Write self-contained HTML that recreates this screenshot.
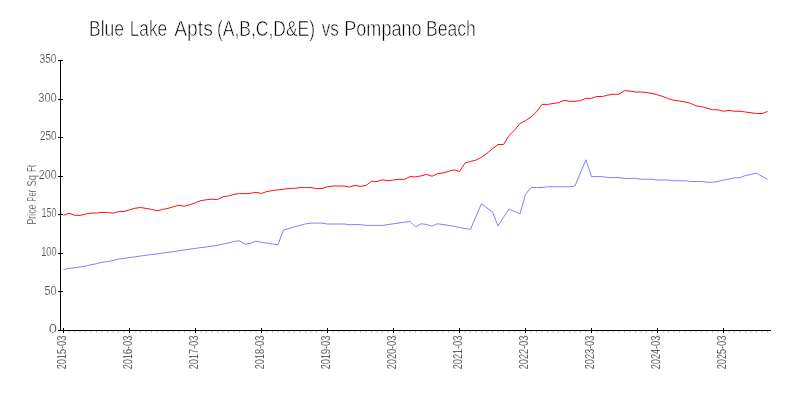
<!DOCTYPE html>
<html><head><meta charset="utf-8"><title>Chart</title>
<style>
html,body{margin:0;padding:0;background:#fff;}
svg{display:block;will-change:transform;}
text{font-family:"Liberation Sans",sans-serif;}
.ax{font-size:13px;fill:#333;stroke:#fff;stroke-width:0.15px;}
.ay{fill:#505050;}
.ayt{font-size:13px;fill:#505050;stroke:#fff;stroke-width:0.15px;}
.title{font-size:22px;fill:#000;stroke:#fff;stroke-width:0.6px;}
</style></head><body>
<svg width="800" height="400" viewBox="0 0 800 400">
<rect width="800" height="400" fill="#fff"/>
<g shape-rendering="crispEdges" fill="#000">
<rect x="60" y="60" width="1" height="271"/>
<rect x="58" y="330" width="713" height="1"/>
<rect x="58" y="330" width="5" height="1"/>
<rect x="58" y="291" width="5" height="1"/>
<rect x="58" y="253" width="5" height="1"/>
<rect x="58" y="214" width="5" height="1"/>
<rect x="58" y="176" width="5" height="1"/>
<rect x="58" y="137" width="5" height="1"/>
<rect x="58" y="99" width="5" height="1"/>
<rect x="58" y="60" width="5" height="1"/>
<rect x="63" y="328" width="1" height="5"/>
<rect x="129" y="328" width="1" height="5"/>
<rect x="195" y="328" width="1" height="5"/>
<rect x="261" y="328" width="1" height="5"/>
<rect x="327" y="328" width="1" height="5"/>
<rect x="393" y="328" width="1" height="5"/>
<rect x="459" y="328" width="1" height="5"/>
<rect x="525" y="328" width="1" height="5"/>
<rect x="591" y="328" width="1" height="5"/>
<rect x="657" y="328" width="1" height="5"/>
<rect x="723" y="328" width="1" height="5"/>
</g>
<g fill="#c4c4c4">
<rect x="68.5" y="331.3" width="1" height="1.7"/>
<rect x="74.0" y="331.3" width="1" height="1.7"/>
<rect x="79.5" y="331.3" width="1" height="1.7"/>
<rect x="85.0" y="331.3" width="1" height="1.7"/>
<rect x="90.5" y="331.3" width="1" height="1.7"/>
<rect x="96.0" y="331.3" width="1" height="1.7"/>
<rect x="101.5" y="331.3" width="1" height="1.7"/>
<rect x="107.0" y="331.3" width="1" height="1.7"/>
<rect x="112.5" y="331.3" width="1" height="1.7"/>
<rect x="118.0" y="331.3" width="1" height="1.7"/>
<rect x="123.5" y="331.3" width="1" height="1.7"/>
<rect x="134.5" y="331.3" width="1" height="1.7"/>
<rect x="140.0" y="331.3" width="1" height="1.7"/>
<rect x="145.5" y="331.3" width="1" height="1.7"/>
<rect x="151.0" y="331.3" width="1" height="1.7"/>
<rect x="156.5" y="331.3" width="1" height="1.7"/>
<rect x="162.0" y="331.3" width="1" height="1.7"/>
<rect x="167.5" y="331.3" width="1" height="1.7"/>
<rect x="173.0" y="331.3" width="1" height="1.7"/>
<rect x="178.5" y="331.3" width="1" height="1.7"/>
<rect x="184.0" y="331.3" width="1" height="1.7"/>
<rect x="189.5" y="331.3" width="1" height="1.7"/>
<rect x="200.5" y="331.3" width="1" height="1.7"/>
<rect x="206.0" y="331.3" width="1" height="1.7"/>
<rect x="211.5" y="331.3" width="1" height="1.7"/>
<rect x="217.0" y="331.3" width="1" height="1.7"/>
<rect x="222.5" y="331.3" width="1" height="1.7"/>
<rect x="228.0" y="331.3" width="1" height="1.7"/>
<rect x="233.5" y="331.3" width="1" height="1.7"/>
<rect x="239.0" y="331.3" width="1" height="1.7"/>
<rect x="244.5" y="331.3" width="1" height="1.7"/>
<rect x="250.0" y="331.3" width="1" height="1.7"/>
<rect x="255.5" y="331.3" width="1" height="1.7"/>
<rect x="266.5" y="331.3" width="1" height="1.7"/>
<rect x="272.0" y="331.3" width="1" height="1.7"/>
<rect x="277.5" y="331.3" width="1" height="1.7"/>
<rect x="283.0" y="331.3" width="1" height="1.7"/>
<rect x="288.5" y="331.3" width="1" height="1.7"/>
<rect x="294.0" y="331.3" width="1" height="1.7"/>
<rect x="299.5" y="331.3" width="1" height="1.7"/>
<rect x="305.0" y="331.3" width="1" height="1.7"/>
<rect x="310.5" y="331.3" width="1" height="1.7"/>
<rect x="316.0" y="331.3" width="1" height="1.7"/>
<rect x="321.5" y="331.3" width="1" height="1.7"/>
<rect x="332.5" y="331.3" width="1" height="1.7"/>
<rect x="338.0" y="331.3" width="1" height="1.7"/>
<rect x="343.5" y="331.3" width="1" height="1.7"/>
<rect x="349.0" y="331.3" width="1" height="1.7"/>
<rect x="354.5" y="331.3" width="1" height="1.7"/>
<rect x="360.0" y="331.3" width="1" height="1.7"/>
<rect x="365.5" y="331.3" width="1" height="1.7"/>
<rect x="371.0" y="331.3" width="1" height="1.7"/>
<rect x="376.5" y="331.3" width="1" height="1.7"/>
<rect x="382.0" y="331.3" width="1" height="1.7"/>
<rect x="387.5" y="331.3" width="1" height="1.7"/>
<rect x="398.5" y="331.3" width="1" height="1.7"/>
<rect x="404.0" y="331.3" width="1" height="1.7"/>
<rect x="409.5" y="331.3" width="1" height="1.7"/>
<rect x="415.0" y="331.3" width="1" height="1.7"/>
<rect x="420.5" y="331.3" width="1" height="1.7"/>
<rect x="426.0" y="331.3" width="1" height="1.7"/>
<rect x="431.5" y="331.3" width="1" height="1.7"/>
<rect x="437.0" y="331.3" width="1" height="1.7"/>
<rect x="442.5" y="331.3" width="1" height="1.7"/>
<rect x="448.0" y="331.3" width="1" height="1.7"/>
<rect x="453.5" y="331.3" width="1" height="1.7"/>
<rect x="464.5" y="331.3" width="1" height="1.7"/>
<rect x="470.0" y="331.3" width="1" height="1.7"/>
<rect x="475.5" y="331.3" width="1" height="1.7"/>
<rect x="481.0" y="331.3" width="1" height="1.7"/>
<rect x="486.5" y="331.3" width="1" height="1.7"/>
<rect x="492.0" y="331.3" width="1" height="1.7"/>
<rect x="497.5" y="331.3" width="1" height="1.7"/>
<rect x="503.0" y="331.3" width="1" height="1.7"/>
<rect x="508.5" y="331.3" width="1" height="1.7"/>
<rect x="514.0" y="331.3" width="1" height="1.7"/>
<rect x="519.5" y="331.3" width="1" height="1.7"/>
<rect x="530.5" y="331.3" width="1" height="1.7"/>
<rect x="536.0" y="331.3" width="1" height="1.7"/>
<rect x="541.5" y="331.3" width="1" height="1.7"/>
<rect x="547.0" y="331.3" width="1" height="1.7"/>
<rect x="552.5" y="331.3" width="1" height="1.7"/>
<rect x="558.0" y="331.3" width="1" height="1.7"/>
<rect x="563.5" y="331.3" width="1" height="1.7"/>
<rect x="569.0" y="331.3" width="1" height="1.7"/>
<rect x="574.5" y="331.3" width="1" height="1.7"/>
<rect x="580.0" y="331.3" width="1" height="1.7"/>
<rect x="585.5" y="331.3" width="1" height="1.7"/>
<rect x="596.5" y="331.3" width="1" height="1.7"/>
<rect x="602.0" y="331.3" width="1" height="1.7"/>
<rect x="607.5" y="331.3" width="1" height="1.7"/>
<rect x="613.0" y="331.3" width="1" height="1.7"/>
<rect x="618.5" y="331.3" width="1" height="1.7"/>
<rect x="624.0" y="331.3" width="1" height="1.7"/>
<rect x="629.5" y="331.3" width="1" height="1.7"/>
<rect x="635.0" y="331.3" width="1" height="1.7"/>
<rect x="640.5" y="331.3" width="1" height="1.7"/>
<rect x="646.0" y="331.3" width="1" height="1.7"/>
<rect x="651.5" y="331.3" width="1" height="1.7"/>
<rect x="662.5" y="331.3" width="1" height="1.7"/>
<rect x="668.0" y="331.3" width="1" height="1.7"/>
<rect x="673.5" y="331.3" width="1" height="1.7"/>
<rect x="679.0" y="331.3" width="1" height="1.7"/>
<rect x="684.5" y="331.3" width="1" height="1.7"/>
<rect x="690.0" y="331.3" width="1" height="1.7"/>
<rect x="695.5" y="331.3" width="1" height="1.7"/>
<rect x="701.0" y="331.3" width="1" height="1.7"/>
<rect x="706.5" y="331.3" width="1" height="1.7"/>
<rect x="712.0" y="331.3" width="1" height="1.7"/>
<rect x="717.5" y="331.3" width="1" height="1.7"/>
<rect x="728.5" y="331.3" width="1" height="1.7"/>
<rect x="734.0" y="331.3" width="1" height="1.7"/>
<rect x="739.5" y="331.3" width="1" height="1.7"/>
<rect x="745.0" y="331.3" width="1" height="1.7"/>
<rect x="750.5" y="331.3" width="1" height="1.7"/>
<rect x="756.0" y="331.3" width="1" height="1.7"/>
<rect x="761.5" y="331.3" width="1" height="1.7"/>
<rect x="767.0" y="331.3" width="1" height="1.7"/>
</g>
<polyline fill="none" stroke="#8080ff" stroke-width="1" stroke-linejoin="round" points="63.5,269.40 69.0,268.50 74.5,267.75 80.0,267.00 85.5,266.10 91.0,264.75 96.5,263.75 102.0,262.25 107.5,261.50 113.0,260.60 118.5,259.10 124.0,258.40 129.5,257.60 135.0,256.90 140.5,256.00 146.0,255.25 151.5,254.50 157.0,253.90 162.5,253.10 168.0,252.40 173.5,251.50 179.0,250.75 184.5,250.00 190.0,249.10 195.5,248.40 201.0,247.60 206.5,246.90 212.0,246.10 217.5,245.40 223.0,244.00 228.5,243.00 234.0,241.50 239.5,240.75 245.0,244.10 250.5,243.45 256.0,241.10 261.5,242.40 267.0,243.10 272.5,244.00 278.0,244.75 283.5,230.00 289.0,228.50 294.5,226.90 300.0,225.40 305.5,223.90 311.0,223.10 316.5,223.10 322.0,223.10 327.5,224.00 333.0,224.00 338.5,224.00 344.0,224.00 349.5,224.70 355.0,224.60 360.5,224.60 366.0,225.40 371.5,225.40 377.0,225.40 382.5,225.40 388.0,224.60 393.5,223.75 399.0,223.00 404.5,222.25 410.0,221.50 415.5,226.90 421.0,223.75 426.5,224.50 432.0,226.25 437.5,223.75 443.0,224.60 448.5,225.40 454.0,226.25 459.5,227.60 465.0,228.50 470.5,229.25 476.0,216.25 481.5,203.75 487.0,208.00 492.5,211.90 498.0,226.00 503.5,217.25 509.0,209.10 514.5,211.50 520.0,213.75 525.5,194.40 531.0,187.50 536.5,187.50 542.0,187.50 547.5,186.75 553.0,186.75 558.5,186.75 564.0,186.75 569.5,186.75 575.0,186.00 580.5,172.50 586.0,159.75 591.5,176.60 597.0,176.60 602.5,176.60 608.0,177.50 613.5,177.55 619.0,177.55 624.5,178.40 630.0,178.40 635.5,178.40 641.0,179.25 646.5,179.25 652.0,179.25 657.5,180.00 663.0,180.00 668.5,180.00 674.0,180.75 679.5,180.75 685.0,180.75 690.5,181.50 696.0,181.50 701.5,181.50 707.0,182.25 712.5,182.25 718.0,181.50 723.5,180.00 729.0,179.10 734.5,177.75 740.0,177.75 745.5,175.40 751.0,174.50 756.5,173.10 762.0,176.25 767.5,179.25"/>
<polyline fill="none" stroke="#ff1010" stroke-width="1" stroke-linejoin="round" points="63.5,215.40 69.0,213.10 74.5,215.25 80.0,215.40 85.5,214.00 91.0,213.10 96.5,213.10 102.0,212.40 107.5,212.40 113.0,213.25 118.5,211.60 124.0,211.50 129.5,209.75 135.0,208.25 140.5,207.50 146.0,208.40 151.5,209.40 157.0,210.75 162.5,209.40 168.0,208.40 173.5,206.75 179.0,205.25 184.5,206.25 190.0,204.60 195.5,202.75 201.0,200.60 206.5,199.75 212.0,199.25 217.5,199.50 223.0,196.75 228.5,195.90 234.0,194.40 239.5,193.50 245.0,193.75 250.5,193.25 256.0,192.40 261.5,193.40 267.0,191.50 272.5,190.60 278.0,189.90 283.5,189.25 289.0,188.40 294.5,188.40 300.0,187.60 305.5,187.60 311.0,187.60 316.5,188.50 322.0,188.50 327.5,186.75 333.0,186.00 338.5,186.00 344.0,186.00 349.5,187.00 355.0,185.40 360.5,186.40 366.0,185.50 371.5,181.25 377.0,181.50 382.5,179.75 388.0,180.75 393.5,180.00 399.0,179.25 404.5,179.40 410.0,176.60 415.5,176.90 421.0,175.90 426.5,174.40 432.0,176.25 437.5,173.70 443.0,172.90 448.5,171.40 454.0,169.90 459.5,171.40 465.0,163.00 470.5,161.50 476.0,160.00 481.5,157.25 487.0,153.25 492.5,148.75 498.0,144.50 503.5,144.50 509.0,135.60 514.5,130.20 520.0,123.50 525.5,120.60 531.0,117.00 536.5,111.90 542.0,104.40 547.5,104.40 553.0,103.50 558.5,102.75 564.0,100.40 569.5,101.25 575.0,101.40 580.5,100.50 586.0,98.40 591.5,98.30 597.0,96.50 602.5,96.50 608.0,95.00 613.5,94.25 619.0,94.25 624.5,90.50 630.0,91.10 635.5,92.10 641.0,92.00 646.5,92.60 652.0,93.40 657.5,94.90 663.0,96.50 668.5,98.75 674.0,100.25 679.5,101.00 685.0,102.00 690.5,103.30 696.0,105.90 701.5,106.60 707.0,108.10 712.5,109.75 718.0,109.75 723.5,111.25 729.0,110.40 734.5,111.25 740.0,111.25 745.5,112.00 751.0,112.75 756.5,113.50 762.0,113.50 767.5,111.50"/>
<text class="title" x="89.00" y="36.00" textLength="34.94" lengthAdjust="spacingAndGlyphs">Blue</text>
<text class="title" x="129.75" y="36.00" textLength="37.43" lengthAdjust="spacingAndGlyphs">Lake</text>
<text class="title" x="174.25" y="36.00" textLength="38.55" lengthAdjust="spacingAndGlyphs">Apts</text>
<text class="title" x="217.00" y="36.00" textLength="98.07" lengthAdjust="spacingAndGlyphs">(A,B,C,D&amp;E)</text>
<text class="title" x="321.75" y="36.00" textLength="17.09" lengthAdjust="spacingAndGlyphs">vs</text>
<text class="title" x="344.25" y="36.00" textLength="77.34" lengthAdjust="spacingAndGlyphs">Pompano</text>
<text class="title" x="426.00" y="36.00" textLength="49.66" lengthAdjust="spacingAndGlyphs">Beach</text>
<text class="ax ay" x="48.75" y="333.20" textLength="8.17" lengthAdjust="spacingAndGlyphs">0</text>
<text class="ax ay" x="44.50" y="294.63" textLength="12.09" lengthAdjust="spacingAndGlyphs">50</text>
<text class="ax ay" x="41.25" y="256.06" textLength="15.35" lengthAdjust="spacingAndGlyphs">100</text>
<text class="ax ay" x="41.50" y="217.49" textLength="15.10" lengthAdjust="spacingAndGlyphs">150</text>
<text class="ax ay" x="38.85" y="178.91" textLength="17.80" lengthAdjust="spacingAndGlyphs">200</text>
<text class="ax ay" x="40.00" y="140.34" textLength="16.56" lengthAdjust="spacingAndGlyphs">250</text>
<text class="ax ay" x="38.25" y="101.77" textLength="18.56" lengthAdjust="spacingAndGlyphs">300</text>
<text class="ax ay" x="39.50" y="63.20" textLength="17.05" lengthAdjust="spacingAndGlyphs">350</text>
<text class="ax" transform="translate(66.00,369.30) rotate(-90)" textLength="33.59" lengthAdjust="spacingAndGlyphs">2015-03</text>
<text class="ax" transform="translate(132.00,369.30) rotate(-90)" textLength="33.59" lengthAdjust="spacingAndGlyphs">2016-03</text>
<text class="ax" transform="translate(198.00,369.30) rotate(-90)" textLength="33.59" lengthAdjust="spacingAndGlyphs">2017-03</text>
<text class="ax" transform="translate(264.00,369.30) rotate(-90)" textLength="33.59" lengthAdjust="spacingAndGlyphs">2018-03</text>
<text class="ax" transform="translate(330.00,369.30) rotate(-90)" textLength="33.59" lengthAdjust="spacingAndGlyphs">2019-03</text>
<text class="ax" transform="translate(396.00,369.30) rotate(-90)" textLength="33.59" lengthAdjust="spacingAndGlyphs">2020-03</text>
<text class="ax" transform="translate(462.00,369.30) rotate(-90)" textLength="33.59" lengthAdjust="spacingAndGlyphs">2021-03</text>
<text class="ax" transform="translate(528.00,369.30) rotate(-90)" textLength="33.59" lengthAdjust="spacingAndGlyphs">2022-03</text>
<text class="ax" transform="translate(594.00,369.30) rotate(-90)" textLength="33.59" lengthAdjust="spacingAndGlyphs">2023-03</text>
<text class="ax" transform="translate(660.00,369.30) rotate(-90)" textLength="33.59" lengthAdjust="spacingAndGlyphs">2024-03</text>
<text class="ax" transform="translate(726.00,369.30) rotate(-90)" textLength="33.59" lengthAdjust="spacingAndGlyphs">2025-03</text>
<text class="ayt" transform="translate(36.00,224.60) rotate(-90)" textLength="20.03" lengthAdjust="spacingAndGlyphs">Price</text>
<text class="ayt" transform="translate(36.00,201.45) rotate(-90)" textLength="11.62" lengthAdjust="spacingAndGlyphs">Per</text>
<text class="ayt" transform="translate(36.00,186.50) rotate(-90)" textLength="11.29" lengthAdjust="spacingAndGlyphs">Sq</text>
<text class="ayt" transform="translate(36.00,171.65) rotate(-90)" textLength="6.80" lengthAdjust="spacingAndGlyphs">Ft</text>
</svg>
</body></html>
